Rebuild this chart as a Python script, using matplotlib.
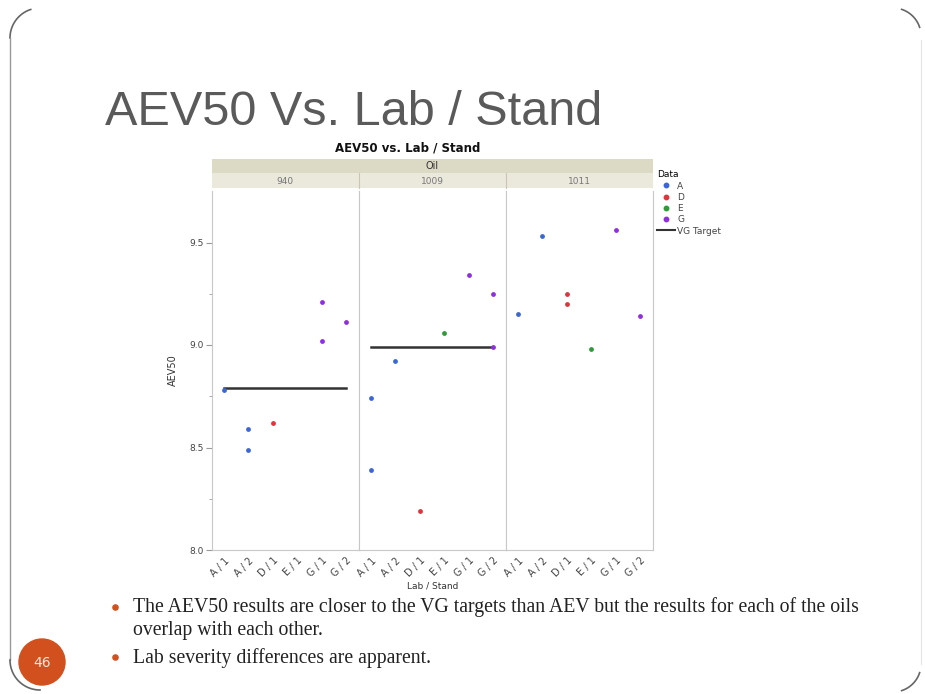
import numpy as np
import matplotlib.pyplot as plt
from matplotlib.lines import Line2D

# categories
oils = ['940', '1009', '1011']
stands = ['A / 1', 'A / 2', 'D / 1', 'E / 1', 'G / 1', 'G / 2']

# AEV50 results per lab (oil, lab/stand, value)
a_oil = ['940', '940', '940', '1009', '1009', '1009', '1011', '1011']
a_stand = ['A / 1', 'A / 2', 'A / 2', 'A / 1', 'A / 1', 'A / 2', 'A / 1', 'A / 2']
a_aev50 = [8.78, 8.59, 8.49, 8.74, 8.39, 8.92, 9.15, 9.53]

d_oil = ['940', '1009', '1011', '1011']
d_stand = ['D / 1', 'D / 1', 'D / 1', 'D / 1']
d_aev50 = [8.62, 8.19, 9.25, 9.20]

e_oil = ['1009', '1011']
e_stand = ['E / 1', 'E / 1']
e_aev50 = [9.06, 8.98]

g_oil = ['940', '940', '940', '1009', '1009', '1009', '1011', '1011']
g_stand = ['G / 1', 'G / 1', 'G / 2', 'G / 1', 'G / 2', 'G / 2', 'G / 1', 'G / 2']
g_aev50 = [9.21, 9.02, 9.11, 9.34, 9.25, 8.99, 9.56, 9.14]

# VG target per oil
vg_oil = ['940', '1009']
vg_target = [8.79, 8.99]

labs = [
    ('A', a_oil, a_stand, a_aev50, '#3a66d6'),
    ('D', d_oil, d_stand, d_aev50, '#d9363e'),
    ('E', e_oil, e_stand, e_aev50, '#2f9a3a'),
    ('G', g_oil, g_stand, g_aev50, '#8d2fe0'),
]

W, H = 925, 694
fig = plt.figure(figsize=(W / 100, H / 100), dpi=100)
fig.patch.set_facecolor('white')

# slide layer in pixel coordinates
bg = fig.add_axes([0, 0, 1, 1])
bg.set_xlim(0, W)
bg.set_ylim(H, 0)
bg.axis('off')

frame_col = '#666666'
t = np.linspace(np.pi, 1.4 * np.pi, 30)
bg.plot(40 + 30 * np.cos(t), 38 + 30 * np.sin(t), color=frame_col, lw=1.2)
bg.plot([10, 10], [38, 660], color='#999999', lw=1.0)
t = np.linspace(0.5 * np.pi, np.pi, 30)
bg.plot(40 + 30 * np.cos(t), 660 + 30 * np.sin(t), color=frame_col, lw=1.2)
t = np.linspace(1.6 * np.pi, 1.9 * np.pi, 30)
bg.plot(893 + 28 * np.cos(t), 36 + 28 * np.sin(t), color=frame_col, lw=1.2)
bg.plot([921, 921], [40, 664], color='#e4e4e4', lw=0.8)
t = np.linspace(0.1 * np.pi, 0.4 * np.pi, 30)
bg.plot(893 + 28 * np.cos(t), 664 + 28 * np.sin(t), color=frame_col, lw=1.2)

# slide title
bg.text(105, 125, 'AEV50 Vs. Lab / Stand', fontsize=35, color='#5a5a5a',
        family=['Liberation Sans Narrow', 'Liberation Sans', 'DejaVu Sans'],
        ha='left', va='baseline')

# bullets
accent = '#d2501e'
serif = ['Liberation Serif', 'DejaVu Serif']
txt_size = 14.2
bg.scatter([115, 115], [607, 657], s=14, color=accent, zorder=3)
bg.text(133, 607, 'The AEV50 results are closer to the VG targets than AEV but the results for each of the oils',
        fontsize=txt_size, family=serif, color='#222222', va='center', ha='left')
bg.text(133, 630, 'overlap with each other.', fontsize=txt_size, family=serif,
        color='#222222', va='center', ha='left')
bg.text(133, 658, 'Lab severity differences are apparent.', fontsize=txt_size,
        family=serif, color='#222222', va='center', ha='left')

# page number
bg.add_patch(plt.Circle((42, 662), 23, color=accent, zorder=3))
bg.text(42, 663, '46', color='#f6e6dc', fontsize=10, ha='center', va='center', zorder=4)

# chart title and strip header
bg.text(408, 148, 'AEV50 vs. Lab / Stand', fontsize=8.5, fontweight='bold',
        color='#111111', ha='center', va='center')
px_left, px_w = 211.7, 147.0
bg.add_patch(plt.Rectangle((px_left, 159), 3 * px_w, 14, color='#dcd9c5', lw=0))
bg.add_patch(plt.Rectangle((px_left, 173), 3 * px_w, 15, color='#ebe9dc', lw=0))
bg.text(px_left + 1.5 * px_w, 166, 'Oil', fontsize=7, color='#333333', ha='center', va='center')
for i, oil in enumerate(oils):
    bg.text(px_left + (i + 0.5) * px_w, 181, oil, fontsize=6.5, color='#777777',
            ha='center', va='center')
    if i > 0:
        bg.plot([px_left + i * px_w] * 2, [173, 188], color='#c9c6b4', lw=0.8)

# panels
top_px, bot_px = 191, 550
ymin = 8.0
ymax = 8.0 + (bot_px - top_px) / 205.0
spine_col = '#c8c8c8'
axes = []
for i, oil in enumerate(oils):
    ax = fig.add_axes([(px_left + i * px_w) / W, 1 - bot_px / H, px_w / W, (bot_px - top_px) / H])
    ax.set_xlim(-0.5, len(stands) - 0.5)
    ax.set_ylim(ymin, ymax)
    for side in ['left', 'right', 'bottom']:
        ax.spines[side].set_color(spine_col)
    ax.spines['top'].set_visible(False)
    ax.set_xticks(range(len(stands)))
    ax.set_xticklabels(stands, rotation=45, ha='right', rotation_mode='anchor',
                       fontsize=7, color='#444444')
    ax.tick_params(axis='x', length=0, pad=4)
    ax.set_yticks([8.0, 8.5, 9.0, 9.5])
    ax.set_yticks([8.25, 8.75, 9.25], minor=True)
    if i == 0:
        ax.tick_params(axis='y', which='major', length=4, color='#999999', labelsize=6.5,
                       labelcolor='#444444', pad=2)
        ax.tick_params(axis='y', which='minor', length=2, color='#999999')
        ax.set_ylabel('AEV50', fontsize=7, color='#333333', labelpad=8)
    else:
        ax.tick_params(axis='y', which='both', length=0, labelleft=False)

    for name, l_oil, l_stand, l_val, col in labs:
        xs = [stands.index(s) for o, s in zip(l_oil, l_stand) if o == oil]
        ys = [v for o, v in zip(l_oil, l_val) if o == oil]
        ax.scatter(xs, ys, s=12, color=col, zorder=3, linewidths=0)

    if oil in vg_oil:
        v = vg_target[vg_oil.index(oil)]
        ax.plot([0, len(stands) - 1], [v, v], color='#333333', lw=1.8, zorder=2)
    axes.append(ax)

axes[1].set_xlabel('Lab / Stand', fontsize=6.5, color='#333333', labelpad=2)

# legend
handles = [Line2D([], [], marker='o', ls='none', color=c, markersize=3.2) for _, _, _, _, c in labs]
handles.append(Line2D([], [], color='#333333', lw=1.5))
names = [n for n, *_ in labs] + ['VG Target']
leg = fig.legend(handles, names, title='Data', loc='upper left',
                 bbox_to_anchor=(651 / W, 1 - 164 / H), frameon=False,
                 fontsize=6.5, title_fontsize=6.5, handlelength=2.0,
                 handletextpad=0.2, labelspacing=0.25, borderpad=0.2)
leg._legend_box.align = 'left'
for txt in leg.get_texts():
    txt.set_color('#444444')

fig.savefig('out.png', dpi=100)
